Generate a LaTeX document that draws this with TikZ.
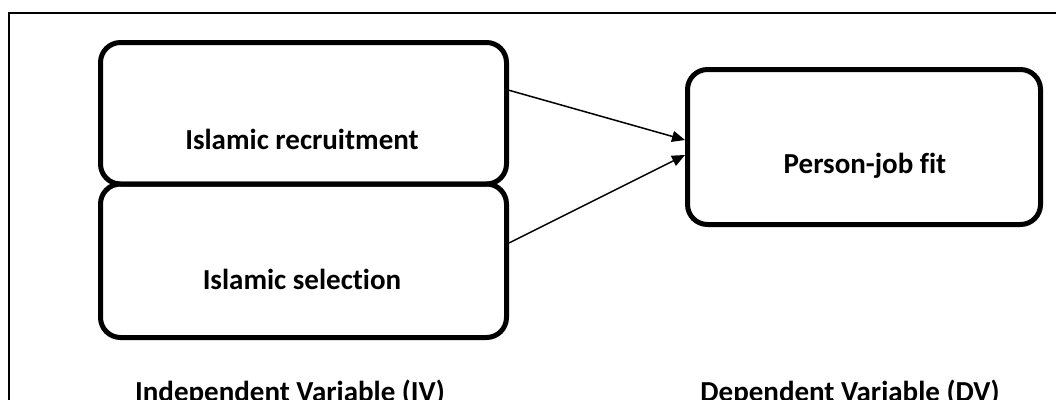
\documentclass[tikz,border=0pt]{standalone}
\usepackage{fontspec}
\setmainfont{Carlito}[Ligatures=NoCommon]
\usetikzlibrary{arrows.meta}
\begin{document}
\begin{tikzpicture}[x=1pt,y=-1pt,
  varbox/.style={draw, line width=5pt, rounded corners=20pt, inner sep=0pt, minimum width=#1},
  lbl/.style={font=\bfseries\fontsize{29}{33}\selectfont, inner sep=0pt},
  arr/.style={line width=1.5pt, -{Triangle[length=13pt,width=11pt]}},
  frame/.style={line width=1.5pt}
]
\clip (0,0) rectangle (1056,399);
\draw[frame] (9,420) -- (9,13) -- (1080,13);
\node[varbox=406pt, minimum height=141.5pt] (b1) at (303.5,113.25) {};
\node[varbox=406pt, minimum height=153.5pt] (b2) at (303.5,260.75) {};
\node[varbox=353pt, minimum height=155pt] (b3) at (864,147) {};
\node[lbl] (t1) at (302,139) {Islamic recruitment};
\node[lbl] (t2) at (302,279) {Islamic selection};
\node[lbl] (t3) at (865,166) {Person-job fit};
\node[lbl, anchor=base] (iv) at (290,401) {Independent Variable (IV)};
\node[lbl, anchor=base] (dv) at (850,401) {Dependent Variable (DV)};
\draw[arr] ([yshift=23pt]b1.east) -- ([yshift=7pt]b3.west);
\draw[arr] ([yshift=17.75pt]b2.east) -- ([yshift=-8pt]b3.west);
\end{tikzpicture}
\end{document}
